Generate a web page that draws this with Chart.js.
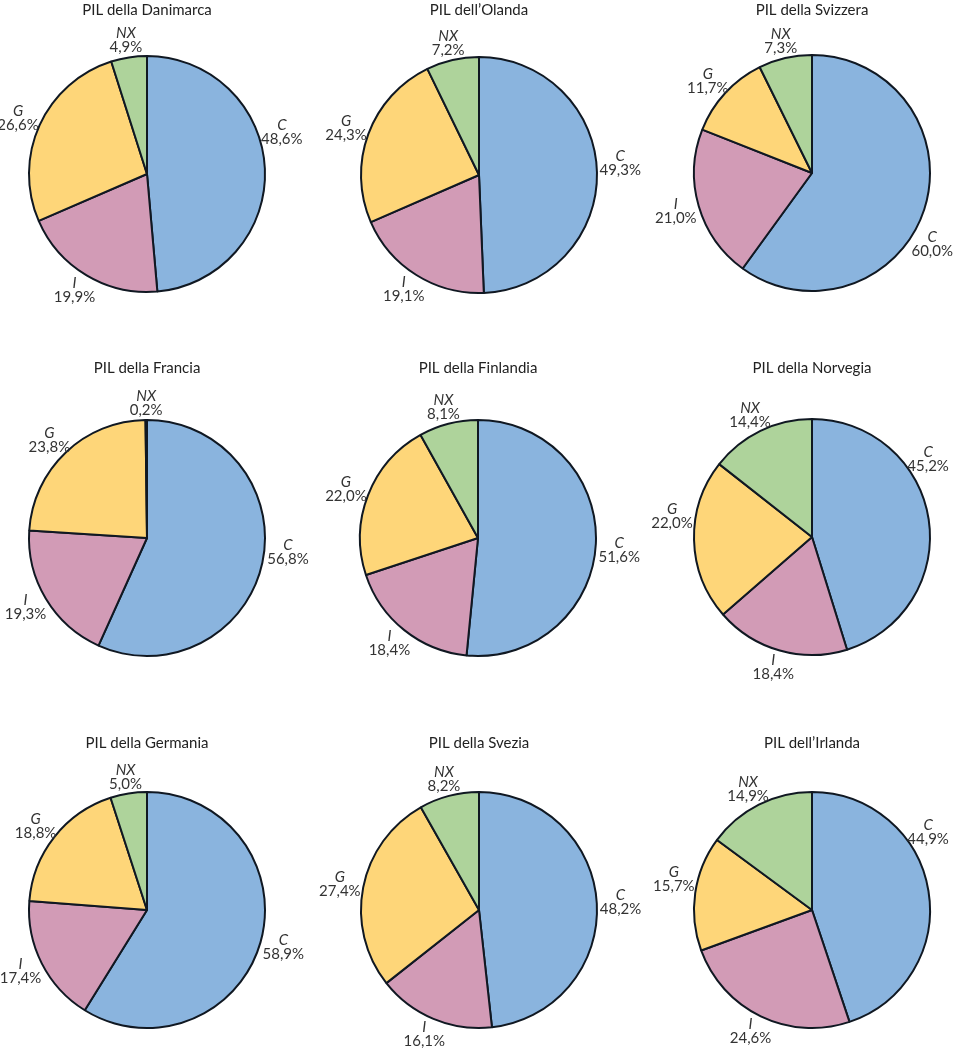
<!DOCTYPE html>
<html>
<head>
<meta charset="utf-8">
<script src="https://cdn.jsdelivr.net/npm/chart.js@4.4.1/dist/chart.umd.min.js"></script>
<style>
  html, body { margin: 0; padding: 0; background: #ffffff; }
  body { width: 955px; height: 1048px; position: relative; overflow: hidden; }
  .cell { position: absolute; width: 340px; height: 360px; }
  .cell canvas { display: block; }
</style>
</head>
<body>
<script>
// ---------- DATA ----------
const categories = ['C', 'I', 'G', 'NX'];
const titles = [
  'PIL della Danimarca', 'PIL dell\u2019Olanda', 'PIL della Svizzera',
  'PIL della Francia', 'PIL della Finlandia', 'PIL della Norvegia',
  'PIL della Germania', 'PIL della Svezia', 'PIL dell\u2019Irlanda'
];
const danimarca = [48.6, 19.9, 26.6, 4.9];
const olanda    = [49.3, 19.1, 24.3, 7.2];
const svizzera  = [60.0, 21.0, 11.7, 7.3];
const francia   = [56.8, 19.3, 23.8, 0.2];
const finlandia = [51.6, 18.4, 22.0, 8.1];
const norvegia  = [45.2, 18.4, 22.0, 14.4];
const germania  = [58.9, 17.4, 18.8, 5.0];
const svezia    = [48.2, 16.1, 27.4, 8.2];
const irlanda   = [44.9, 24.6, 15.7, 14.9];
const seriesList = [danimarca, olanda, svizzera, francia, finlandia, norvegia, germania, svezia, irlanda];

// ---------- LAYOUT / STYLE ----------
const sliceColors = ['#8ab4de', '#d29bb6', '#fed679', '#aed39b'];
// pie centre x, centre y, title distance above centre
const centers = [
  [147, 174, 164], [479, 175, 165], [812, 173, 163],
  [147, 538, 170], [478, 538, 170], [812, 537, 169],
  [147, 910, 167], [479, 910, 167], [812, 910, 167]
];
// optional label direction (degrees, 0 = right, clockwise); null = slice middle
const labelDirections = [
  [-18, null, null, null], [-5, null, null, null], [32, null, null, null],
  [6, null, null, null], [5, null, null, null], [-35, null, 189, null],
  [null, null, null, null], [null, null, null, null], [-35, null, 193, null]
];
const CW = 340, CH = 360, CX = 170, CY = 195, RADIUS = 118;
const FONT = 'Lato, "Open Sans", "DejaVu Sans", sans-serif';

const labelPlugin = {
  id: 'sliceLabels',
  afterDatasetsDraw(chart, args, opts) {
    const ctx = chart.ctx;
    const meta = chart.getDatasetMeta(0);
    const data = chart.data.datasets[0].data;
    ctx.save();
    meta.data.forEach((arc, i) => {
      const p = arc.getProps(['x', 'y', 'startAngle', 'endAngle', 'outerRadius'], true);
      let mid = (p.startAngle + p.endAngle) / 2;
      const dir = opts.directions[i];
      if (dir !== null && dir !== undefined) mid = dir * Math.PI / 180;
      const c = Math.cos(mid), s = Math.sin(mid);
      const name = chart.data.labels[i];
      const val = data[i].toFixed(1).replace('.', ',') + '%';
      ctx.font = '15px ' + FONT;
      const w = Math.max(ctx.measureText(val).width, 12);
      const lh = 14;
      const h = lh * 2;
      const gap = 3;
      const px = p.x + (p.outerRadius + gap) * c;
      const py = p.y + (p.outerRadius + gap) * s;
      const bx = px + c * w / 2;
      const by = py + s * h / 2;
      ctx.fillStyle = '#333333';
      ctx.textAlign = 'center';
      ctx.textBaseline = 'middle';
      ctx.font = 'italic 15px ' + FONT;
      ctx.fillText(name, bx, by - lh / 2);
      ctx.font = '15px ' + FONT;
      ctx.fillText(val, bx, by + lh / 2);
    });
    ctx.font = '15px ' + FONT;
    ctx.fillStyle = '#222222';
    ctx.textAlign = 'center';
    ctx.textBaseline = 'middle';
    ctx.fillText(opts.title, CX, CY - opts.titleOffset);
    ctx.restore();
  }
};

seriesList.forEach((values, k) => {
  const div = document.createElement('div');
  div.className = 'cell';
  div.style.left = (centers[k][0] - CX) + 'px';
  div.style.top = (centers[k][1] - CY) + 'px';
  const cv = document.createElement('canvas');
  cv.width = CW; cv.height = CH;
  cv.style.width = CW + 'px'; cv.style.height = CH + 'px';
  div.appendChild(cv);
  document.body.appendChild(div);
  new Chart(cv, {
    type: 'pie',
    data: {
      labels: categories,
      datasets: [{
        data: values,
        backgroundColor: sliceColors,
        borderColor: '#101822',
        borderWidth: 2,
        borderAlign: 'center'
      }]
    },
    options: {
      responsive: false,
      animation: false,
      events: [],
      radius: RADIUS,
      layout: { padding: { top: CY - 150, bottom: CH - CY - 150, left: 0, right: 0 } },
      plugins: {
        legend: { display: false },
        tooltip: { enabled: false },
        title: { display: false },
        sliceLabels: { title: titles[k], titleOffset: centers[k][2], directions: labelDirections[k] }
      }
    },
    plugins: [labelPlugin]
  });
});
</script>
</body>
</html>
